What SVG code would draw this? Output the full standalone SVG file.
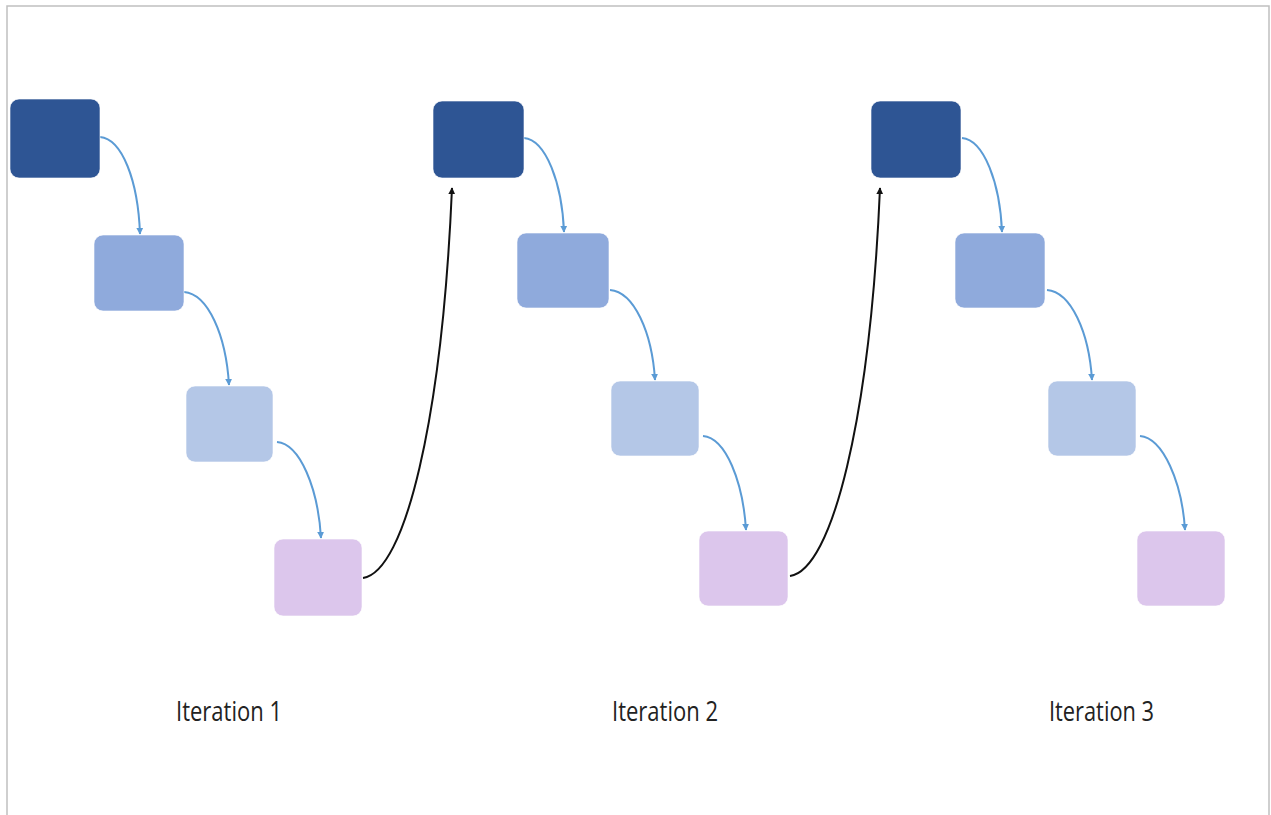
<svg xmlns="http://www.w3.org/2000/svg" width="1271" height="815" viewBox="0 0 1271 815">
<defs>
<style>
.n{stroke:#ffffff;stroke-width:1;stroke-opacity:0.6}
.d{fill:#2E5594}
.m{fill:#8FAADC}
.l{fill:#B4C7E7}
.p{fill:#DCC6EC}
.e{fill:none;stroke:#5B9BD5;stroke-width:2}
.k{fill:none;stroke:#111111;stroke-width:2}
.t{font-family:"Open Sans","Noto Sans",sans-serif;font-size:27px;fill:#222222}
</style>
<marker id="ab" viewBox="0 0 10 10" refX="9" refY="5" markerWidth="7" markerHeight="7" markerUnits="userSpaceOnUse" orient="auto"><path d="M0,0 L10,5 L0,10 z" fill="#5B9BD5"/></marker>
<marker id="ak" viewBox="0 0 10 10" refX="9" refY="5" markerWidth="7" markerHeight="7" markerUnits="userSpaceOnUse" orient="auto"><path d="M0,0 L10,5 L0,10 z" fill="#111111"/></marker>
</defs>
<rect width="1271" height="815" fill="#ffffff"/>
<path d="M7,815 L7,6 L1269,6 L1269,815" fill="none" stroke="#C0C0C0" stroke-width="1.5"/>
<g id="connectors">
<path class="e" marker-end="url(#ab)" d="M100,137 C122,139 138,180 140,234"/>
<path class="e" marker-end="url(#ab)" d="M184,292 C208,294 226,335 229,385"/>
<path class="e" marker-end="url(#ab)" d="M277,442 C300,444 318,488 321,538"/>
<path class="e" marker-end="url(#ab)" d="M524,138 C546,140 562,183 564,232"/>
<path class="e" marker-end="url(#ab)" d="M610,290 C634,292 652,332 655,380"/>
<path class="e" marker-end="url(#ab)" d="M703,436 C726,438 743,482 746,530"/>
<path class="e" marker-end="url(#ab)" d="M962,138 C984,140 1000,183 1002,232"/>
<path class="e" marker-end="url(#ab)" d="M1047,290 C1071,292 1089,332 1092,380"/>
<path class="e" marker-end="url(#ab)" d="M1140,436 C1163,438 1182,482 1185,530"/>
<path class="k" marker-end="url(#ak)" d="M363,578 C405,572 442,420 452,188"/>
<path class="k" marker-end="url(#ak)" d="M790,576 C832,570 870,420 880,188"/>
</g>
<g id="a1"><rect class="n d" x="10" y="99" width="90" height="79" rx="9"/></g>
<g id="b1"><rect class="n m" x="94" y="235" width="90" height="76" rx="9"/></g>
<g id="c1"><rect class="n l" x="186" y="386" width="87" height="76" rx="9"/></g>
<g id="d1"><rect class="n p" x="274" y="539" width="88" height="77" rx="9"/></g>
<g id="a2"><rect class="n d" x="433" y="101" width="91" height="77" rx="9"/></g>
<g id="b2"><rect class="n m" x="517" y="233" width="92" height="75" rx="9"/></g>
<g id="c2"><rect class="n l" x="611" y="381" width="88" height="75" rx="9"/></g>
<g id="d2"><rect class="n p" x="699" y="531" width="89" height="75" rx="9"/></g>
<g id="a3"><rect class="n d" x="871" y="101" width="90" height="77" rx="9"/></g>
<g id="b3"><rect class="n m" x="955" y="233" width="90" height="75" rx="9"/></g>
<g id="c3"><rect class="n l" x="1048" y="381" width="88" height="75" rx="9"/></g>
<g id="d3"><rect class="n p" x="1137" y="531" width="88" height="75" rx="9"/></g>
<g id="labels">
<text class="t" x="176" y="721" textLength="106" lengthAdjust="spacingAndGlyphs">Iteration 1</text>
<text class="t" x="612" y="721" textLength="106" lengthAdjust="spacingAndGlyphs">Iteration 2</text>
<text class="t" x="1049" y="721" textLength="105" lengthAdjust="spacingAndGlyphs">Iteration 3</text>
</g>
</svg>
